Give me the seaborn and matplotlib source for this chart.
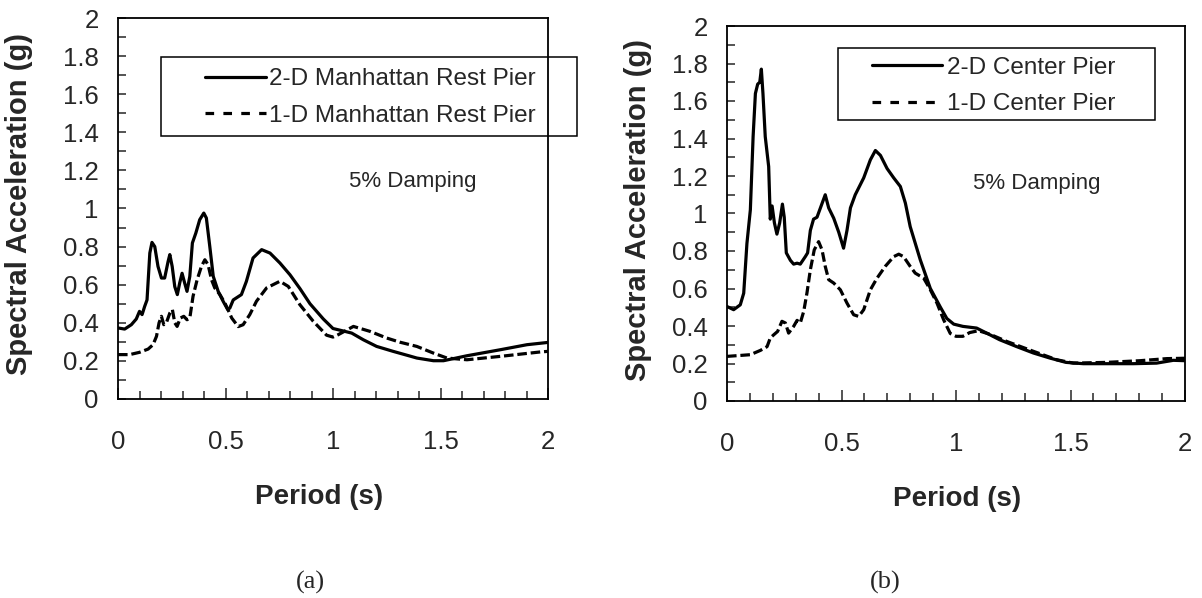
import pandas as pd
import matplotlib
matplotlib.use('Agg')
import matplotlib.pyplot as plt
from matplotlib.lines import Line2D
from matplotlib.patches import Rectangle
from matplotlib.ticker import MultipleLocator
import seaborn as sns

# (a) Manhattan Rest Pier
left_2d_period = [0, 0.031, 0.062, 0.085, 0.1, 0.112, 0.124, 0.135, 0.148, 0.158, 0.171, 0.186,
                  0.202, 0.217, 0.233, 0.241, 0.252, 0.264, 0.276, 0.287, 0.298, 0.31, 0.321,
                  0.334, 0.346, 0.362, 0.38, 0.399, 0.411, 0.427, 0.443, 0.466, 0.489, 0.51,
                  0.52, 0.536, 0.574, 0.597, 0.628, 0.668, 0.707, 0.753, 0.8, 0.846, 0.893,
                  0.924, 0.955, 1.0, 1.048, 1.087, 1.141, 1.203, 1.28, 1.359, 1.39, 1.467,
                  1.514, 1.623, 1.78, 1.902, 2.0]
left_2d_sa = [0.373, 0.367, 0.39, 0.42, 0.46, 0.443, 0.486, 0.52, 0.766, 0.822, 0.80, 0.696,
              0.635, 0.635, 0.722, 0.758, 0.696, 0.59, 0.548, 0.609, 0.66, 0.609, 0.565,
              0.644, 0.819, 0.871, 0.941, 0.976, 0.95, 0.80, 0.644, 0.565, 0.513, 0.47,
              0.477, 0.52, 0.548, 0.617, 0.74, 0.784, 0.766, 0.714, 0.652, 0.58, 0.50,
              0.46, 0.42, 0.37, 0.357, 0.346, 0.311, 0.276, 0.25, 0.225, 0.215, 0.201,
              0.201, 0.227, 0.259, 0.285, 0.297]

left_1d_period = [0, 0.054, 0.1, 0.14, 0.163, 0.179, 0.191, 0.202, 0.213, 0.225, 0.241, 0.253,
                  0.264, 0.275, 0.29, 0.306, 0.321, 0.334, 0.349, 0.368, 0.388, 0.404, 0.419,
                  0.435, 0.45, 0.474, 0.497, 0.515, 0.529, 0.559, 0.582, 0.613, 0.644, 0.691,
                  0.753, 0.792, 0.846, 0.908, 0.97, 1.0, 1.025, 1.095, 1.172, 1.25, 1.312,
                  1.39, 1.467, 1.53, 1.623, 1.78, 1.964, 2.0]
left_1d_sa = [0.233, 0.233, 0.245, 0.262, 0.285, 0.329, 0.40, 0.434, 0.39, 0.40, 0.451, 0.469,
              0.40, 0.381, 0.425, 0.434, 0.416, 0.425, 0.539, 0.626, 0.696, 0.731, 0.705,
              0.626, 0.583, 0.548, 0.504, 0.46, 0.425, 0.38, 0.39, 0.443, 0.513, 0.583,
              0.618, 0.591, 0.495, 0.408, 0.335, 0.325, 0.338, 0.381, 0.355, 0.32, 0.298,
              0.276, 0.241, 0.215, 0.206, 0.224, 0.247, 0.25]

# (b) Center Pier
right_2d_period = [0, 0.029, 0.058, 0.073, 0.087, 0.102, 0.114, 0.124, 0.134, 0.143, 0.15,
                   0.157, 0.167, 0.182, 0.189, 0.197, 0.207, 0.218, 0.23, 0.242, 0.25, 0.259,
                   0.277, 0.291, 0.306, 0.32, 0.342, 0.352, 0.364, 0.378, 0.393, 0.408, 0.429,
                   0.444, 0.466, 0.488, 0.509, 0.524, 0.539, 0.56, 0.597, 0.626, 0.648, 0.67,
                   0.699, 0.728, 0.757, 0.779, 0.8, 0.844, 0.888, 0.932, 0.96, 0.99, 1.03,
                   1.09, 1.134, 1.19, 1.265, 1.338, 1.41, 1.48, 1.556, 1.658, 1.775, 1.876,
                   1.949, 2.0]
right_2d_sa = [0.504, 0.487, 0.513, 0.575, 0.84, 1.02, 1.41, 1.64, 1.69, 1.70, 1.77,
               1.64, 1.41, 1.25, 0.97, 1.04, 0.95, 0.89, 0.95, 1.05, 0.98, 0.79,
               0.75, 0.73, 0.735, 0.73, 0.77, 0.79, 0.91, 0.97, 0.98, 1.03, 1.10,
               1.03, 0.975, 0.90, 0.815, 0.91, 1.03, 1.10, 1.19, 1.286, 1.336, 1.31,
               1.24, 1.19, 1.144, 1.055, 0.93, 0.753, 0.60, 0.50, 0.44, 0.41, 0.398,
               0.389, 0.362, 0.327, 0.29, 0.256, 0.229, 0.206, 0.199, 0.199, 0.199, 0.202,
               0.217, 0.215]

right_1d_period = [0, 0.058, 0.102, 0.146, 0.175, 0.189, 0.204, 0.221, 0.24, 0.255, 0.269,
                   0.291, 0.306, 0.32, 0.335, 0.349, 0.364, 0.381, 0.4, 0.415, 0.429, 0.444,
                   0.466, 0.495, 0.524, 0.553, 0.575, 0.597, 0.626, 0.655, 0.691, 0.728, 0.75,
                   0.771, 0.8, 0.822, 0.859, 0.888, 0.917, 0.946, 0.975, 1.0, 1.03, 1.06,
                   1.098, 1.15, 1.221, 1.338, 1.44, 1.512, 1.658, 1.804, 1.92, 2.0]
right_1d_sa = [0.238, 0.243, 0.247, 0.27, 0.29, 0.336, 0.353, 0.371, 0.425, 0.416, 0.362,
               0.398, 0.43, 0.416, 0.478, 0.575, 0.70, 0.806, 0.85, 0.806, 0.718, 0.647,
               0.629, 0.593, 0.522, 0.46, 0.451, 0.487, 0.593, 0.655, 0.718, 0.77, 0.783,
               0.77, 0.718, 0.682, 0.655, 0.593, 0.522, 0.433, 0.36, 0.345, 0.345, 0.365,
               0.375, 0.355, 0.318, 0.265, 0.22, 0.202, 0.206, 0.215, 0.226, 0.228]

panels = [
    dict(p2=left_2d_period, s2=left_2d_sa, p1=left_1d_period, s1=left_1d_sa,
         labels=['2-D Manhattan Rest Pier', '1-D Manhattan Rest Pier'], tag='(a)'),
    dict(p2=right_2d_period, s2=right_2d_sa, p1=right_1d_period, s1=right_1d_sa,
         labels=['2-D Center Pier', '1-D Center Pier'], tag='(b)'),
]

sns.set_style('ticks')
plt.rcParams['font.family'] = ['Liberation Sans', 'DejaVu Sans']

W, H = 1202, 598
fig = plt.figure(figsize=(W / 100, H / 100), dpi=100)

# axes boxes in pixels: left, top, right, bottom
boxes = [(118, 18, 548, 399), (727, 26, 1185, 401)]
legend_boxes = [(161, 57, 577, 136), (838, 48, 1155, 120)]
legend_anchor = [(205, 97.5, 2.5, 0.15), (872, 86, 2.9, 0.18)]
damping_pos = [(413, 181), (1037, 183)]
xlabel_pos = [(319, 497), (957, 499)]
ylabel_pos = [(19, 204), (638, 210)]
tag_pos = [(310, 582), (885, 582)]

lw = 2.3
for i, pnl in enumerate(panels):
    l, t, r, b = boxes[i]
    ax = fig.add_axes([l / W, 1 - b / H, (r - l) / W, (b - t) / H])

    df2 = pd.DataFrame({'Period': pnl['p2'], 'SA': pnl['s2']})
    df1 = pd.DataFrame({'Period': pnl['p1'], 'SA': pnl['s1']})
    sns.lineplot(data=df2, x='Period', y='SA', ax=ax, color='black', lw=lw,
                 estimator=None, sort=False)
    sns.lineplot(data=df1, x='Period', y='SA', ax=ax, color='black', lw=lw,
                 estimator=None, sort=False, linestyle=(0, (3, 1.2)))

    ax.set_xlim(0, 2)
    ax.set_ylim(0, 2)
    ax.xaxis.set_major_locator(MultipleLocator(0.5))
    ax.xaxis.set_minor_locator(MultipleLocator(0.1))
    ax.yaxis.set_major_locator(MultipleLocator(0.2))
    ax.yaxis.set_minor_locator(MultipleLocator(0.1))
    ax.xaxis.set_major_formatter(plt.FuncFormatter(lambda v, p: f'{v:g}'))
    ax.yaxis.set_major_formatter(plt.FuncFormatter(lambda v, p: f'{v:g}'))
    ax.tick_params(axis='x', which='major', direction='in', length=8, width=1.1,
                   labelsize=18.5, pad=22)
    ax.tick_params(axis='x', which='minor', direction='in', length=6, width=1.1)
    ax.tick_params(axis='y', which='both', direction='in', length=6, width=1.1,
                   labelsize=18.5, pad=14)
    for s in ax.spines.values():
        s.set_visible(True)
        s.set_linewidth(1.3)
        s.set_color('black')

    ax.set_xlabel('Period (s)', fontsize=20, fontweight='bold', va='center')
    ax.set_ylabel('Spectral Acceleration (g)', fontsize=21, fontweight='bold', va='center')
    xx, xy = xlabel_pos[i]
    ax.xaxis.set_label_coords((xx - l) / (r - l), (b - xy) / (b - t))
    yx, yy = ylabel_pos[i]
    ax.yaxis.set_label_coords((yx - l) / (r - l), (b - yy) / (b - t))

    dx, dy = damping_pos[i]
    fig.text(dx / W, 1 - dy / H, '5% Damping', fontsize=16, ha='center', va='center')

    handles = [Line2D([], [], color='black', lw=lw),
               Line2D([], [], color='black', lw=lw, linestyle=(0, (2.7, 2.9)))]
    hx, hy, hl, hp = legend_anchor[i]
    ax.legend(handles, pnl['labels'], loc='center left', frameon=False,
              bbox_to_anchor=(hx / W, 1 - hy / H), bbox_transform=fig.transFigure,
              borderpad=0, borderaxespad=0, fontsize=17.5, handlelength=hl,
              handletextpad=hp, labelspacing=0.6)
    bl, bt, br, bb = legend_boxes[i]
    fig.add_artist(Rectangle((bl / W, 1 - bb / H), (br - bl) / W, (bb - bt) / H,
                             transform=fig.transFigure, fill=False, ec='black', lw=1.1))

    tx, ty = tag_pos[i]
    fig.text(tx / W, 1 - ty / H, pnl['tag'], fontsize=19, ha='center', va='center',
             family=['Liberation Serif', 'DejaVu Serif'])

fig.savefig('out.png', dpi=100)
